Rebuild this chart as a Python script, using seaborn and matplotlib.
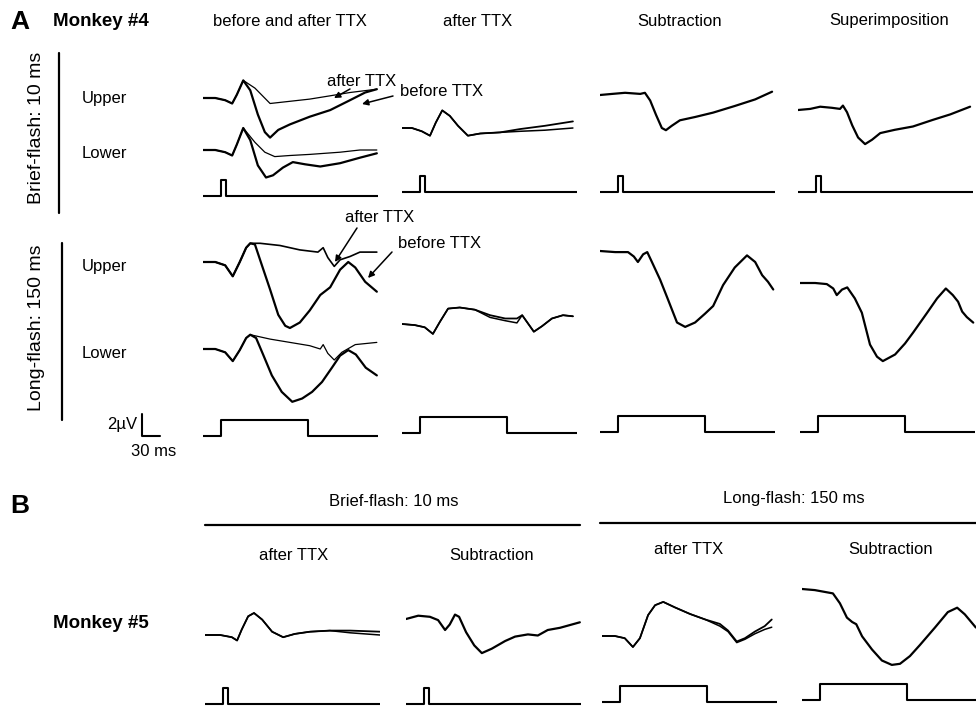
import matplotlib
matplotlib.use("Agg")
import matplotlib.pyplot as plt
import seaborn as sns

sns.set_theme(style="white")
plt.rcParams["font.family"] = ["Liberation Sans", "DejaVu Sans"]

# ------------------------------------------------------------------
# DATA  (time in ms from flash onset, amplitude in µV from pre-flash level)
# ------------------------------------------------------------------
# --- Panel A, Monkey #4, brief flash (10 ms) ---
t_A_brief_up_before = [-30, -9, 8, 20, 28, 39, 51, 64, 76, 85, 99, 119, 153, 188, 222, 248, 268]
v_A_brief_up_before = [0, 0, -0.2, -0.5, 0.3, 1.6, 0.7, -1.5, -3.1, -3.6, -2.9, -2.4, -1.7, -1.1, -0.2, 0.5, 0.8]
t_A_brief_up_after = [-30, -9, 8, 20, 28, 39, 59, 85, 119, 153, 188, 222, 268]
v_A_brief_up_after = [0, 0, -0.2, -0.5, 0.3, 1.6, 0.9, -0.5, -0.3, -0.1, 0.2, 0.5, 0.8]
t_A_brief_lo_before = [-30, -9, 8, 20, 28, 39, 51, 64, 78, 90, 107, 124, 145, 171, 205, 239, 268]
v_A_brief_lo_before = [0, 0, -0.2, -0.5, 0.5, 2.0, 0.9, -1.4, -2.5, -2.3, -1.6, -1.1, -1.3, -1.5, -1.2, -0.7, -0.3]
t_A_brief_lo_after = [-30, -9, 8, 20, 28, 39, 59, 76, 93, 119, 153, 205, 239, 268]
v_A_brief_lo_after = [0, 0, -0.2, -0.5, 0.5, 2.0, 0.7, -0.2, -0.6, -0.5, -0.4, -0.2, 0, 0]
t_A_brief_ttx = [-30, -13, 4, 18, 28, 39, 52, 66, 83, 104, 138, 172, 215, 263]
v_A_brief_ttx_1 = [0, 0, -0.3, -0.7, 0.5, 1.6, 1.1, 0.2, -0.7, -0.5, -0.4, -0.1, 0.2, 0.6]
v_A_brief_ttx_2 = [0, 0, -0.3, -0.7, 0.5, 1.6, 1.1, 0.2, -0.7, -0.5, -0.4, -0.3, -0.2, 0.0]
t_A_brief_sub = [-30, -9, 13, 39, 47, 56, 66, 76, 83, 93, 107, 133, 164, 201, 236, 265]
v_A_brief_sub = [0, 0.1, 0.2, 0.1, 0.2, -0.5, -1.8, -3.0, -3.2, -2.8, -2.3, -2.0, -1.6, -1.0, -0.4, 0.3]
t_A_brief_sup = [-30, -9, 8, 28, 42, 47, 54, 63, 73, 85, 97, 111, 136, 167, 201, 231, 265]
v_A_brief_sup = [0, 0.1, 0.3, 0.2, 0.1, 0.4, -0.2, -1.4, -2.5, -3.1, -2.7, -2.1, -1.8, -1.5, -0.9, -0.4, 0.3]

# --- Panel A, Monkey #4, long flash (150 ms) ---
t_A_long_up_before = [-30, -9, 8, 21, 33, 44, 51, 59, 71, 85, 99, 111, 119, 136, 153, 171, 188, 205, 219, 231, 248, 268]
v_A_long_up_before = [0, 0, -0.3, -1.3, 0, 1.3, 1.7, 1.6, -0.3, -2.5, -4.8, -5.8, -6.0, -5.5, -4.4, -3.0, -2.3, -0.7, 0, -0.5, -1.8, -2.7]
t_A_long_up_after = [-30, -9, 8, 21, 33, 44, 51, 68, 102, 136, 167, 176, 184, 195, 205, 222, 239, 268]
v_A_long_up_after = [0, 0, -0.3, -1.3, 0, 1.3, 1.7, 1.7, 1.5, 1.1, 0.9, 1.3, 0.4, -0.4, 0.2, 0.5, 0.9, 0.9]
t_A_long_lo_before = [-30, -9, 8, 21, 33, 44, 51, 61, 73, 88, 105, 123, 140, 157, 174, 191, 205, 219, 232, 249, 268]
v_A_long_lo_before = [0, 0, -0.3, -1.1, -0.1, 1.0, 1.3, 1.0, -0.5, -2.4, -3.9, -4.8, -4.5, -3.9, -3.0, -1.7, -0.6, -0.1, -0.5, -1.7, -2.4]
t_A_long_lo_after = [-30, -9, 8, 21, 33, 44, 51, 85, 119, 153, 171, 176, 184, 195, 208, 231, 268]
v_A_long_lo_after = [0, 0, -0.3, -1.1, -0.1, 1.0, 1.3, 0.9, 0.6, 0.3, 0, 0.4, -0.4, -1.0, -0.3, 0.4, 0.6]
t_A_long_ttx = [-30, -8, 9, 23, 35, 49, 69, 95, 121, 147, 167, 176, 184, 196, 210, 227, 246, 263]
v_A_long_ttx_1 = [0, -0.1, -0.3, -0.9, 0.2, 1.4, 1.5, 1.3, 0.8, 0.5, 0.5, 0.8, 0.2, -0.7, -0.2, 0.5, 0.8, 0.7]
v_A_long_ttx_2 = [0, -0.1, -0.3, -0.9, 0.2, 1.4, 1.5, 1.3, 0.6, 0.3, 0.1, 0.8, 0.2, -0.7, -0.2, 0.5, 0.8, 0.7]
t_A_long_sub = [-30, -4, 18, 28, 35, 44, 51, 59, 73, 85, 102, 116, 133, 150, 164, 181, 201, 222, 236, 248, 258, 267]
v_A_long_sub = [0, -0.1, -0.1, -0.5, -1.0, -0.3, -0.1, -1.0, -2.6, -4.2, -6.5, -6.9, -6.5, -5.7, -5.0, -3.1, -1.5, -0.4, -1.0, -2.2, -2.8, -3.5]
t_A_long_sup = [-30, -4, 16, 27, 33, 42, 51, 64, 76, 90, 102, 112, 133, 150, 164, 188, 205, 220, 232, 241, 248, 256, 267]
v_A_long_sup = [0, 0, -0.1, -0.5, -1.1, -0.6, -0.4, -1.4, -2.7, -5.6, -6.7, -7.1, -6.5, -5.5, -4.5, -2.7, -1.4, -0.5, -1.1, -1.7, -2.6, -3.1, -3.6]

# --- Panel B, Monkey #5 ---
t_B_brief_ttx = [-30, -4, 16, 25, 33, 44, 54, 68, 85, 104, 124, 150, 184, 219, 270]
v_B_brief_ttx_1 = [0, 0, -0.2, -0.5, 0.5, 1.7, 2.0, 1.4, 0.3, -0.2, 0.1, 0.3, 0.4, 0.4, 0.3]
v_B_brief_ttx_2 = [0, 0, -0.2, -0.5, 0.5, 1.7, 2.0, 1.4, 0.3, -0.2, 0.1, 0.3, 0.4, 0.2, 0.0]
t_B_brief_sub = [-30, -9, 11, 25, 37, 45, 54, 61, 73, 87, 100, 117, 140, 157, 179, 196, 213, 234, 268]
v_B_brief_sub = [0, 0.3, 0.2, -0.1, -1.0, -0.5, 0.4, 0.2, -1.2, -2.4, -3.1, -2.7, -2.0, -1.6, -1.4, -1.5, -1.0, -0.8, -0.3]
t_B_long_ttx = [-30, -8, 9, 23, 35, 49, 61, 75, 95, 121, 147, 172, 186, 201, 215, 232, 249, 261]
v_B_long_ttx_1 = [0, 0, -0.2, -1.0, -0.2, 1.9, 2.8, 3.1, 2.6, 2.0, 1.5, 1.1, 0.5, -0.5, -0.2, 0.4, 0.9, 1.5]
v_B_long_ttx_2 = [0, 0, -0.2, -1.0, -0.2, 1.9, 2.8, 3.1, 2.6, 2.0, 1.5, 0.9, 0.4, -0.6, -0.3, 0.2, 0.6, 0.8]
t_B_long_sub = [-30, -8, 23, 35, 47, 56, 63, 73, 90, 107, 124, 138, 155, 172, 198, 220, 236, 249, 268]
v_B_long_sub = [0, -0.1, -0.4, -1.3, -2.6, -3.0, -3.2, -4.3, -5.5, -6.5, -6.9, -6.8, -6.1, -5.1, -3.5, -2.1, -1.7, -2.3, -3.5]

# --- stimulus markers (light on = 1) ---
stim_t_brief = [-30, 0, 0, 10, 10, 270]
stim_t_long = [-30, 0, 0, 150, 150, 270]
stim_level = [0, 0, 1, 1, 0, 0]

# --- calibration bar ---
scale_t = [0, 0, 30]
scale_v = [2, 0, 0]

# ------------------------------------------------------------------
# LAYOUT
# ------------------------------------------------------------------
W, H = 976, 710
PX_MS = 175 / 300.0   # pixels per ms
PX_UV = 11.0          # pixels per µV
PX_STIM = 16.0        # pixels of stimulus box height
T_LO, T_HI = -30, 270

fig = plt.figure(figsize=(W / 100, H / 100), dpi=100, facecolor="white")


def add_ax(x0, y0, scale, lo, hi):
    """axes where t=-30 sits at pixel x0 and value 0 sits at pixel row y0"""
    left = x0 / W
    bottom = 1 - (y0 - lo * scale) / H
    ax = fig.add_axes([left, bottom, (T_HI - T_LO) * PX_MS / W, (hi - lo) * scale / H])
    ax.set_xlim(T_LO, T_HI)
    ax.set_ylim(lo, hi)
    ax.axis("off")
    ax.patch.set_alpha(0)
    return ax


def trace(ax, t, v, lw):
    sns.lineplot(x=t, y=v, ax=ax, color="black", lw=lw, sort=False,
                 estimator=None, legend=False)


def trace_panel(x0, y0, series):
    ax = add_ax(x0, y0, PX_UV, -9, 4)
    for t, v, lw in series:
        trace(ax, t, v, lw)
    return ax


def stim_panel(x0, y0, t):
    ax = add_ax(x0, y0, PX_STIM, -0.5, 1.5)
    trace(ax, t, stim_level, 1.5)
    return ax


THICK, THIN = 1.6, 0.9

# Panel A brief
trace_panel(203, 98, [(t_A_brief_up_after, v_A_brief_up_after, THIN),
                      (t_A_brief_up_before, v_A_brief_up_before, THICK)])
trace_panel(203, 150, [(t_A_brief_lo_after, v_A_brief_lo_after, THIN),
                       (t_A_brief_lo_before, v_A_brief_lo_before, THICK)])
trace_panel(402, 128, [(t_A_brief_ttx, v_A_brief_ttx_1, 1.3),
                       (t_A_brief_ttx, v_A_brief_ttx_2, 1.1)])
trace_panel(600, 95, [(t_A_brief_sub, v_A_brief_sub, THICK)])
trace_panel(798, 110, [(t_A_brief_sup, v_A_brief_sup, THICK)])
for x0, y0 in [(203, 196), (402, 192), (600, 192), (798, 192)]:
    stim_panel(x0, y0, stim_t_brief)

# Panel A long
trace_panel(203, 262, [(t_A_long_up_after, v_A_long_up_after, 1.2),
                       (t_A_long_up_before, v_A_long_up_before, THICK)])
trace_panel(203, 349, [(t_A_long_lo_after, v_A_long_lo_after, THIN),
                       (t_A_long_lo_before, v_A_long_lo_before, THICK)])
trace_panel(402, 324, [(t_A_long_ttx, v_A_long_ttx_1, 1.3),
                       (t_A_long_ttx, v_A_long_ttx_2, 1.1)])
trace_panel(600, 251, [(t_A_long_sub, v_A_long_sub, THICK)])
trace_panel(800, 283, [(t_A_long_sup, v_A_long_sup, THICK)])
for x0, y0 in [(203, 436), (402, 433), (600, 432), (800, 432)]:
    stim_panel(x0, y0, stim_t_long)

# calibration bar (t=0 at pixel 142, v=0 at pixel row 436)
ax_sc = add_ax(142 - 30 * PX_MS, 436, PX_UV, -1, 3)
trace(ax_sc, scale_t, scale_v, 1.5)

# Panel B
trace_panel(205, 635, [(t_B_brief_ttx, v_B_brief_ttx_1, 1.3),
                       (t_B_brief_ttx, v_B_brief_ttx_2, 1.1)])
trace_panel(406, 619, [(t_B_brief_sub, v_B_brief_sub, THICK)])
trace_panel(602, 636, [(t_B_long_ttx, v_B_long_ttx_1, 1.3),
                       (t_B_long_ttx, v_B_long_ttx_2, 1.1)])
trace_panel(802, 589, [(t_B_long_sub, v_B_long_sub, THICK)])
stim_panel(205, 704, stim_t_brief)
stim_panel(406, 704, stim_t_brief)
stim_panel(602, 702, stim_t_long)
stim_panel(802, 700, stim_t_long)

# ------------------------------------------------------------------
# Overlay: text, brackets, arrows (pixel coordinates)
# ------------------------------------------------------------------
ov = fig.add_axes([0, 0, 1, 1])
ov.set_xlim(0, W)
ov.set_ylim(H, 0)
ov.axis("off")
ov.patch.set_alpha(0)


def txt(x, y, s, size=12, ha="center", weight="normal", rot=0):
    ov.text(x, y, s, fontsize=size, ha=ha, va="center", fontweight=weight,
            rotation=rot, color="black")


txt(10, 22, "A", 19, "left", "bold")
txt(53, 22, "Monkey #4", 13.5, "left", "bold")
txt(290, 21, "before and after TTX")
txt(478, 21, "after TTX")
txt(680, 21, "Subtraction")
txt(889, 21, "Superimposition")

txt(37, 128, "Brief-flash: 10 ms", 14, rot=90)
txt(37, 328, "Long-flash: 150 ms", 14, rot=90)
ov.plot([59, 59], [53, 213], color="black", lw=1.6)
ov.plot([62, 62], [243, 420], color="black", lw=1.6)

txt(82, 99, "Upper", ha="left")
txt(82, 153, "Lower", ha="left")
txt(82, 266, "Upper", ha="left")
txt(82, 353, "Lower", ha="left")

arrow = dict(arrowstyle="-|>", color="black", lw=1.1, mutation_scale=9,
             shrinkA=0, shrinkB=0)
txt(362, 82, "after TTX")
ov.annotate("", xy=(334, 98), xytext=(350, 89), arrowprops=arrow)
txt(400, 92, "before TTX", ha="left")
ov.annotate("", xy=(362, 104), xytext=(393, 96), arrowprops=arrow)
txt(380, 218, "after TTX")
ov.annotate("", xy=(335, 262), xytext=(357, 228), arrowprops=arrow)
txt(398, 243, "before TTX", ha="left")
ov.annotate("", xy=(368, 278), xytext=(392, 252), arrowprops=arrow)

txt(137, 424, "2µV", ha="right")
txt(154, 451, "30 ms")

txt(10, 506, "B", 19, "left", "bold")
txt(394, 501, "Brief-flash: 10 ms")
txt(794, 498, "Long-flash: 150 ms")
ov.plot([205, 580], [525, 525], color="black", lw=1.6)
ov.plot([600, 976], [523, 523], color="black", lw=1.6)
txt(294, 555, "after TTX")
txt(492, 555, "Subtraction")
txt(689, 550, "after TTX")
txt(891, 550, "Subtraction")
txt(53, 623, "Monkey #5", 13.5, "left", "bold")

fig.savefig("out.png", dpi=100, facecolor="white")
